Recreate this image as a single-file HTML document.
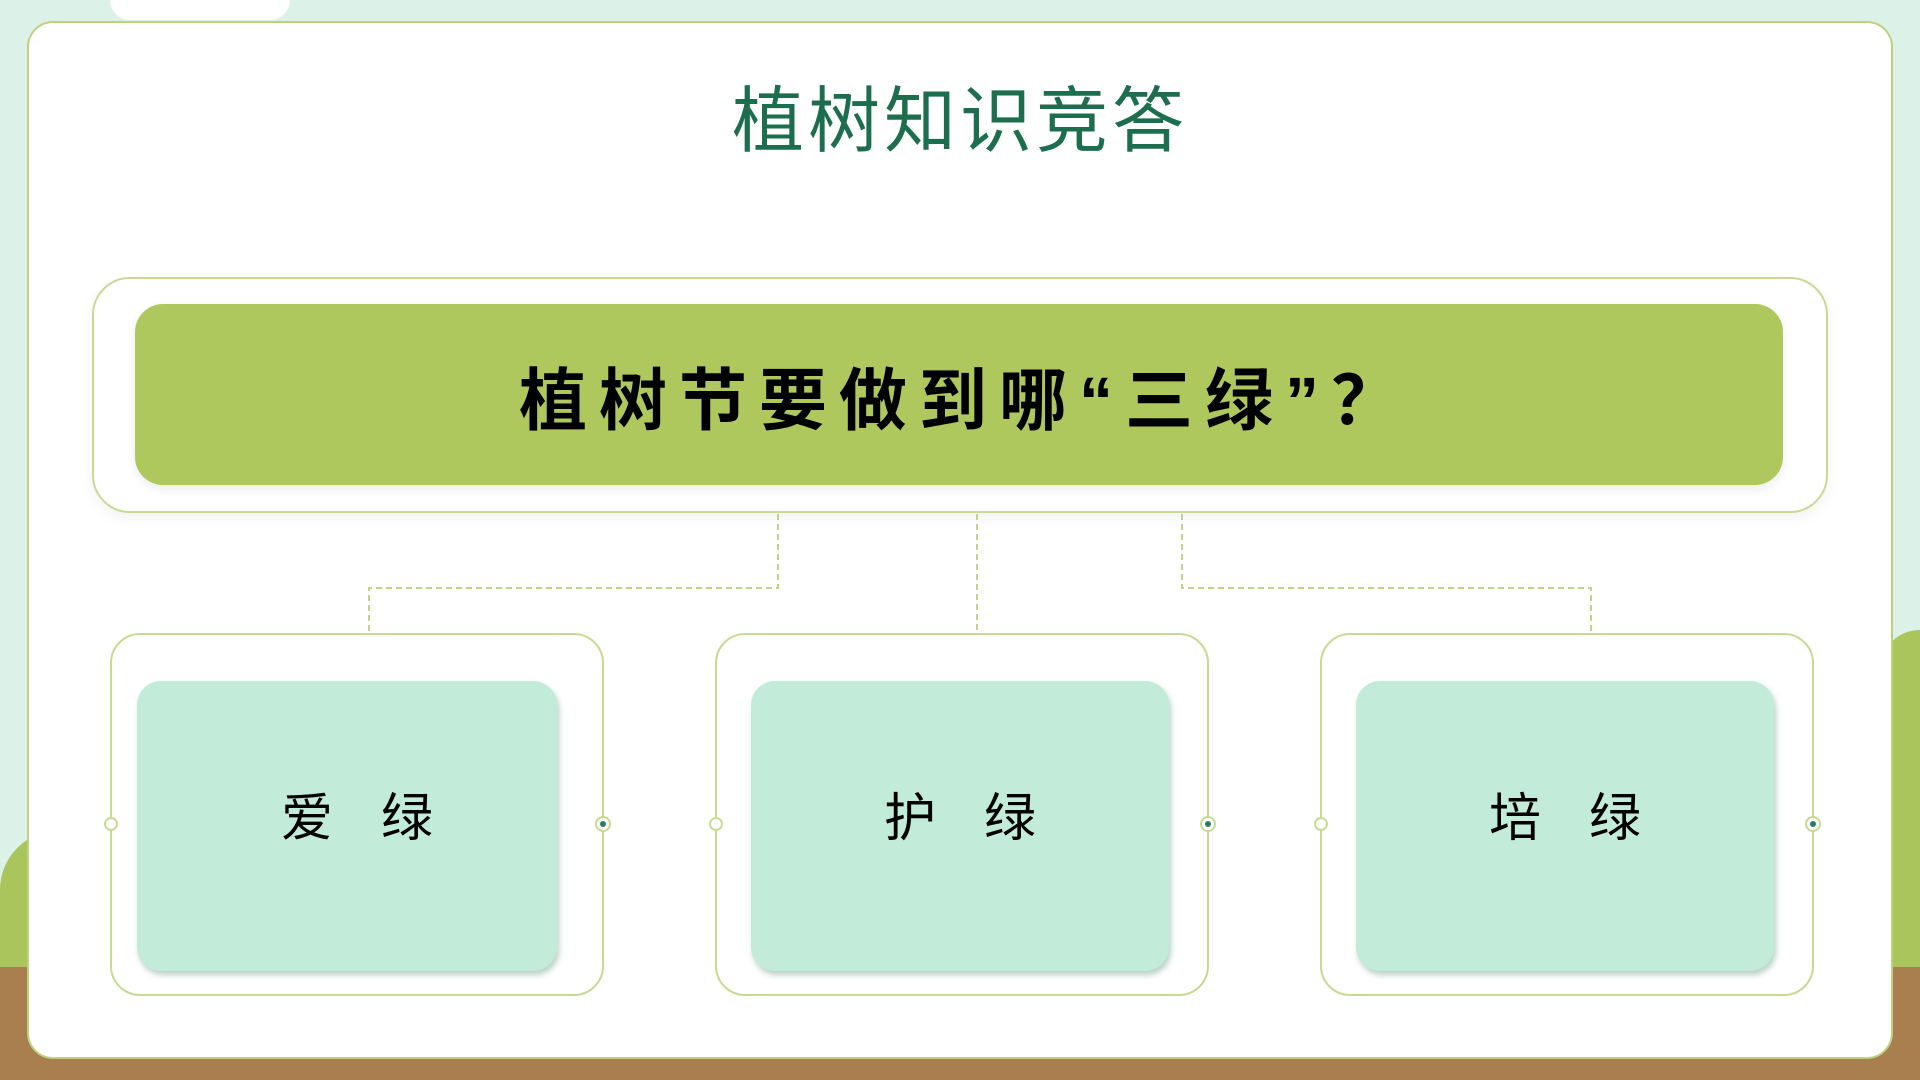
<!DOCTYPE html>
<html><head><meta charset="utf-8"><style>
*{margin:0;padding:0;box-sizing:border-box}
body{width:1920px;height:1080px;overflow:hidden;position:relative;background:#dcf2e8;font-family:"Liberation Sans","Noto Sans CJK SC",sans-serif}
.abs{position:absolute}
.panel{left:27px;top:21px;width:1866px;height:1038px;background:#fff;border:2px solid #bcd27e;border-radius:26px}
.title{left:0;width:1920px;top:80px;text-align:center;font-size:72px;color:#1d6e4f;letter-spacing:4px;line-height:84px}
.outer{left:92px;top:277px;width:1736px;height:236px;border:2px solid #c8da92;border-radius:38px;box-shadow:0 6px 14px rgba(0,0,0,0.05)}
.bar{left:135px;top:304px;width:1648px;height:181px;background:#afc85e;border-radius:28px;box-shadow:0 4px 10px rgba(0,0,0,0.08)}
.bar span{position:absolute;left:0;right:0;top:50%;transform:translateY(-50%);text-align:center;font-size:68px;font-weight:bold;color:#000;letter-spacing:12px;text-indent:12px}
.box{top:633px;width:494px;height:363px;border:2px solid #c8da92;border-radius:30px;background:#fff}
.inner{position:absolute;left:34px;top:46px;width:418px;height:290px;background:#c3ebd9;border-radius:24px;box-shadow:2px 4px 6px rgba(60,120,100,0.35);text-align:center;font-size:52px;color:#000;line-height:70px;padding-top:103px;padding-left:0px;letter-spacing:48px;text-indent:48px}
.c1{position:absolute;left:-8px;top:182px;width:14px;height:14px;border:2px solid #c8da92;border-radius:50%;background:#fff}
.c2{position:absolute;right:-9px;top:181px;width:16px;height:16px;border:2px solid #c8da92;border-radius:50%;background:#fff}
.c2::after{content:"";position:absolute;left:3px;top:3px;width:6px;height:6px;border-radius:50%;background:#2a7c63}
</style></head><body>
<div class="abs" style="left:110px;top:0;width:180px;height:20px;background:#fff;border-radius:0 0 40px 40px"></div>
<div class="abs" style="left:0;top:830px;width:1920px;height:140px;background:#a9c55c;border-radius:60px 60px 0 0"></div>
<div class="abs" style="left:1880px;top:630px;width:60px;height:340px;background:#a9c55c;border-radius:40px 0 0 0"></div>
<div class="abs" style="left:0;top:967px;width:1920px;height:113px;background:#a97f50"></div>
<div class="abs panel"></div>
<div class="abs title">植树知识竞答</div>
<div class="abs outer"></div>
<div class="abs bar"><span>植树节要做到哪“三绿”？</span></div>
<svg class="abs" style="left:0;top:0" width="1920" height="1080">
<g stroke="#c2d48a" stroke-width="2" stroke-dasharray="6,4" fill="none">
<path d="M778 514 V588 H369 V633"/>
<path d="M977 514 V633"/>
<path d="M1182 514 V588 H1591 V633"/>
</g></svg>
<div class="abs box" style="left:110px"><div class="inner" style="left:25px;width:420px;padding-left:20px">爱绿</div><div class="c1"></div><div class="c2"></div></div>
<div class="abs box" style="left:715px"><div class="inner">护绿</div><div class="c1"></div><div class="c2"></div></div>
<div class="abs box" style="left:1320px"><div class="inner">培绿</div><div class="c1"></div><div class="c2"></div></div>
</body></html>
